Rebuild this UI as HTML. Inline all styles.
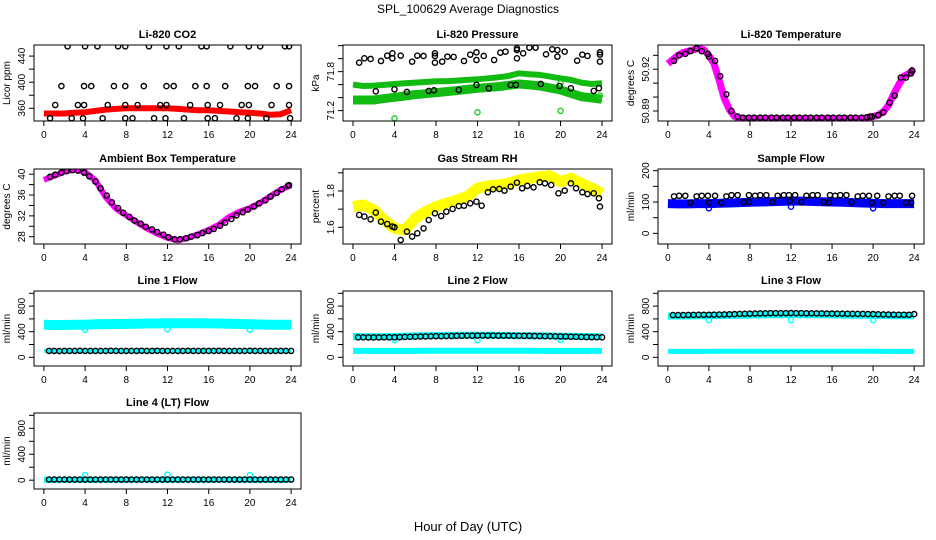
<!DOCTYPE html>
<html><head><meta charset="utf-8">
<style>
html,body{margin:0;padding:0;background:#fff;}
svg{display:block;font-family:"Liberation Sans",Arial,sans-serif;}
</style></head>
<body>
<svg id="fig" width="936" height="540" viewBox="0 0 936 540" xmlns="http://www.w3.org/2000/svg">
<text x="468" y="13" text-anchor="middle" font-size="12">SPL_100629  Average Diagnostics</text>
<text x="468" y="531" text-anchor="middle" font-size="13">Hour of Day (UTC)</text>
</svg>
<script>
// ---------- data ----------
const hourly = [0,1,2,3,4,5,6,7,8,9,10,11,12,13,14,15,16,17,18,19,20,21,22,23,24];

const co2Band = [352,352,352,353,354,356,358,359,360,360,360,360,360,359,358,357,357,356,355,354,353,352,350,351,357];
const co2H455 = [2.3,4.0,5.2,7.2,7.9,10.2,11.9,13.1,15.3,15.8,18.1,19.9,21.0,23.4,23.8];
const co2H395 = [1.7,3.9,4.6,6.8,7.9,9.7,11.9,12.6,14.7,15.8,17.6,19.8,20.5,22.6,23.8];
const co2H365 = [1.1,3.3,3.9,6.2,7.9,9.1,11.3,11.9,14.2,15.9,17.1,19.2,19.9,22.1,23.8];
const co2H345 = [0.6,2.7,3.8,5.7,7.9,8.6,10.7,11.8,13.6,15.9,16.6,18.7,19.8,21.6,23.9];

const presUpper = [71.600,71.579,71.585,71.595,71.610,71.621,71.631,71.641,71.651,71.651,71.662,71.672,71.682,71.697,71.713,71.733,71.774,71.759,71.749,71.723,71.697,71.672,71.631,71.610,71.620];
const presLower = [71.364,71.364,71.364,71.385,71.405,71.425,71.446,71.461,71.477,71.492,71.508,71.526,71.544,71.556,71.569,71.590,71.610,71.595,71.579,71.548,71.518,71.467,71.415,71.395,71.374];
const presGreenH = [4.0,12.0,20.0,20.0,23.8];
const presGreenV = [71.08,71.174,71.195,71.62,71.43];
const presH = [0.6,1.1,1.7,2.2,2.7,3.3,3.8,3.8,4.0,4.6,5.2,5.7,6.2,6.8,7.3,7.8,7.9,7.9,7.9,8.6,9.1,9.7,10.2,10.7,11.3,11.9,11.9,11.9,12.6,13.1,13.6,14.2,14.7,15.2,15.7,15.8,15.8,15.8,16.4,17.0,17.6,18.1,18.6,19.2,19.7,19.7,19.9,20.4,21.0,21.6,22.1,22.6,23.2,23.7,23.8,23.8,23.8];
const presV = [71.938,72.005,71.995,71.497,71.964,72.046,72.082,72.005,71.528,72.046,71.487,71.954,72.046,72.041,71.503,71.513,72.082,72.041,71.938,71.954,72.031,72.026,71.518,71.964,72.062,72.097,71.979,71.595,72.041,71.544,71.979,72.092,72.108,71.595,71.595,72.133,72.159,72.005,72.082,72.169,72.169,71.610,72.067,72.144,72.133,72.031,71.579,72.108,71.544,71.969,72.062,72.041,71.503,71.544,72.097,72.062,71.954];

const tempBandH = [0,0.5,1,1.5,2,2.5,3,3.5,4,4.5,5,5.5,6,6.5,7,10,14,18,19,19.5,20,20.5,21,21.5,22,22.5,23,23.5,24];
const tempBandV = [50.924,50.927,50.930,50.932,50.933,50.934,50.935,50.934,50.930,50.924,50.912,50.899,50.891,50.886,50.8845,50.8845,50.8845,50.8845,50.8845,50.885,50.886,50.887,50.8895,50.894,50.902,50.909,50.915,50.917,50.920];
const tempH = [0.6,1.1,1.7,2.2,2.8,3.3,3.9,4.0,4.6,5.1,5.7,6.2,6.8,7.3,7.9,8.4,9.0,9.5,10.1,10.6,11.2,11.7,12.3,12.8,13.4,13.9,14.5,15.0,15.6,16.1,16.7,17.2,17.8,18.3,18.9,19.4,19.7,19.9,20.5,21.0,21.6,22.1,22.7,23.2,23.7,23.8];
const tempV = [50.926,50.930,50.931,50.933,50.935,50.933,50.931,50.929,50.926,50.915,50.902,50.890,50.886,50.8852,50.8852,50.8852,50.8852,50.8852,50.8852,50.8852,50.8852,50.8852,50.8852,50.8852,50.8852,50.8852,50.8852,50.8852,50.8852,50.8852,50.8852,50.8852,50.8852,50.8852,50.8852,50.8855,50.886,50.886,50.887,50.889,50.896,50.901,50.914,50.914,50.917,50.919];

const ambBand = [38.9,39.7,40.5,40.9,40.4,38.8,35.6,33.4,32.1,30.8,29.6,28.6,27.8,27.3,27.8,28.5,29.3,30.3,31.8,32.8,33.5,34.5,35.8,37.0,37.9];
const circH = [0.6,1.1,1.7,2.2,2.8,3.3,3.9,4.4,5.0,5.5,6.1,6.6,7.2,7.7,8.3,8.8,9.4,9.9,10.5,11.0,11.6,12.1,12.7,13.2,13.8,14.3,14.9,15.4,16.0,16.5,17.1,17.6,18.2,18.7,19.3,19.8,20.4,20.9,21.5,22.0,22.6,23.1,23.7,23.8];
const ambV = [39.5,39.9,40.3,40.6,40.8,40.7,40.3,39.6,38.6,37.3,35.9,34.6,33.5,32.6,31.8,31.1,30.5,29.9,29.4,28.9,28.4,27.9,27.5,27.5,27.7,28.0,28.3,28.7,29.1,29.5,30.1,30.7,31.4,32.1,32.7,33.2,33.8,34.4,35.0,35.7,36.4,37.1,37.8,37.9];

const rhBand = [1.714,1.723,1.695,1.640,1.594,1.585,1.650,1.686,1.714,1.732,1.750,1.769,1.815,1.828,1.833,1.842,1.861,1.870,1.879,1.883,1.851,1.870,1.842,1.815,1.787];
const rhH = [0.6,1.1,1.7,2.2,2.7,3.3,3.8,4.0,4.6,5.2,5.7,6.2,6.8,7.3,7.9,8.5,9.0,9.6,10.2,10.7,11.3,11.9,12.4,13.0,13.5,14.1,14.6,15.2,15.8,16.3,16.8,17.4,18.0,18.5,19.1,19.8,20.4,21.0,21.5,22.1,22.6,23.2,23.7,23.8];
const rhV = [1.668,1.659,1.644,1.681,1.631,1.618,1.604,1.600,1.530,1.576,1.549,1.567,1.594,1.640,1.677,1.662,1.686,1.701,1.717,1.719,1.732,1.741,1.719,1.793,1.809,1.811,1.802,1.824,1.846,1.815,1.828,1.820,1.848,1.842,1.833,1.787,1.802,1.842,1.815,1.793,1.783,1.787,1.760,1.714];

const sfBand = [95,94,94,95,95,96,97,98,99,100,101,102,103,103,102,101,100,99,98,97,96,95,95,95,95];
const sfBlueH = [4,12,20];
const sfBlueV = [80,85,80];
const sfH = [0.6,1.1,1.7,2.2,2.8,3.3,3.9,4.0,4.6,5.2,5.7,6.2,6.8,7.4,7.9,7.9,8.5,9.0,9.6,10.2,10.7,11.3,11.8,11.9,12.4,13.0,13.5,14.1,14.6,15.2,15.7,15.8,16.3,16.8,17.4,17.9,18.5,19.0,19.6,19.9,20.4,21.0,21.5,22.1,22.6,23.2,23.7,23.8];
const sfV = [118,120,120,98,118,120,120,98,120,98,118,122,122,100,122,100,120,122,122,100,120,122,122,103,122,100,120,122,122,100,98,122,120,122,122,100,118,120,120,98,120,98,118,120,120,98,98,120];

const flowH = [0.5,1,1.5,2,2.5,3,3.5,4,4.5,5,5.5,6,6.5,7,7.5,8,8.5,9,9.5,10,10.5,11,11.5,12,12.5,13,13.5,14,14.5,15,15.5,16,16.5,17,17.5,18,18.5,19,19.5,20,20.5,21,21.5,22,22.5,23,23.5,24];
const l1Cyan = [510,505,505,508,510,515,518,520,522,525,528,530,532,533,533,532,530,528,525,520,515,512,510,508,508];
const l1Black = [100,100,98,100,100,100,102,100,100,100,100,100,102,100,100,100,100,100,102,100,100,102,100,100,100,100,100,102,100,100,100,100,100,102,100,100,100,100,100,102,100,100,100,100,100,100,100,100];
const l1CyanH = [4,12,20];
const l1CyanV = [430,440,430];
const l2CyanHi = [325,322,320,322,325,330,335,338,340,342,345,345,345,343,342,340,338,336,335,333,330,328,325,323,322];
const l2CyanLo = [100,100,100,100,100,100,100,102,102,102,102,102,102,102,102,102,102,102,100,100,100,100,100,100,100];
const l2Black = [312,312,310,310,310,312,312,312,315,318,320,322,325,326,328,330,330,332,333,335,337,338,338,340,340,340,340,338,338,338,336,336,335,335,333,332,330,330,328,326,325,322,320,318,316,315,314,312];
const l3CyanHi = [645,645,645,648,650,652,655,658,660,662,664,666,668,666,665,664,662,660,658,656,655,653,650,648,648];
const l3CyanLo = [92,92,92,92,92,93,93,94,95,95,96,96,96,96,96,95,95,94,94,93,93,92,92,92,92];
const l3Black = [660,660,660,662,663,664,665,665,666,668,670,672,675,678,680,682,684,686,688,690,690,690,690,692,690,690,688,688,686,685,684,683,682,682,680,680,678,678,676,675,672,670,668,666,665,665,664,675];
const l4Cyan = [5,5,5,5,5,5,5,6,6,6,6,6,6,6,6,6,6,6,6,6,6,5,5,5,5];
const l4Black = [10,10,10,10,10,10,10,10,10,10,10,10,10,10,10,10,10,10,10,10,10,10,10,10,10,10,10,10,10,10,10,10,10,10,10,10,10,10,10,10,10,10,10,10,10,10,10,10];
const l4CyanH = [4,12,20];
const l4CyanV = [80,85,80];

// ---------- layout ----------
const NS = "http://www.w3.org/2000/svg";
const svg = document.getElementById('fig');
const colBox = [[34,301],[343,612],[658,924]];
const rowBox = [[45,121],[169,244],[291,366],[413,489]];

function el(tag, attrs, parent){
  const e = document.createElementNS(NS, tag);
  for (const k in attrs) e.setAttribute(k, attrs[k]);
  (parent||svg).appendChild(e);
  return e;
}

function makePanel(col,row,title,ylab,ymin,ymax,ticks,labels,key){
  const [x0,x1] = colBox[col], [y0,y1] = rowBox[row];
  const g = el('g',{});
  
  
  const w = x1-x0;
  const sx = h => x0 + (w*0.04/1.08) + (h/24)*(w/1.08);
  const sy = v => y1 - (v-ymin)/(ymax-ymin)*(y1-y0);
  const plot = el('g',{'clip-path':'url(#clip-'+key+')'},g);
  const cp = el('clipPath',{id:'clip-'+key},g);
  el('rect',{x:x0,y:y0,width:w,height:y1-y0},cp);
  const box = el('rect',{x:x0,y:y0,width:w,height:y1-y0,fill:'none',stroke:'#000','stroke-width':1},g);
  
  
  const t = el('text',{x:(x0+x1)/2,y:y0-7,'text-anchor':'middle','font-size':11,'font-weight':'bold'},g);
  t.textContent = title;
  
  
  [0,4,8,12,16,20,24].forEach(h=>{
    el('line',{x1:sx(h),x2:sx(h),y1:y1,y2:y1+5,stroke:'#000'},g);
    const tl = el('text',{x:sx(h),y:y1+17,'text-anchor':'middle','font-size':10},g);
    tl.textContent = h;
    
    
  });
  ticks.forEach(v=>{
    el('line',{x1:x0-5,x2:x0,y1:sy(v),y2:sy(v),stroke:'#000'},g);
  });
  labels.forEach(v=>{
    const yl = el('text',{x:0,y:0,'text-anchor':'middle','font-size':10,transform:'translate('+(x0-9)+','+sy(v)+') rotate(-90)'},g);
    yl.textContent = v;
    
    
  });
  const yt = el('text',{x:0,y:0,'text-anchor':'middle','font-size':10,transform:'translate('+(x0-24)+','+((y0+y1)/2)+') rotate(-90)'},g);
  yt.textContent = ylab;
  
  
  return {plot, sx, sy};
}

function band(p,hs,vs,color,width,name){
  const pts = hs.map((h,i)=>p.sx(h).toFixed(1)+','+p.sy(vs[i]).toFixed(1)).join(' ');
  const b = el('polyline',{points:pts,fill:'none',stroke:color,'stroke-width':width,'stroke-linejoin':'round','stroke-linecap':'butt'},p.plot);
  
  
}
function circles(p,hs,vs,color,name){
  hs.forEach((h,i)=>{
    const c = el('circle',{cx:p.sx(h),cy:p.sy(vs[i]),r:2.6,fill:'none',stroke:color,'stroke-width':1.4},p.plot);
    
    
  });
}
const rng = (a,b,s)=>{const r=[];for(let v=a;v<=b+1e-9;v+=s)r.push(+v.toFixed(4));return r;};

let p = makePanel(0,0,'Li-820 CO2','Licor ppm',340.5,457,rng(360,440,20),[360,400,440],'co2');
band(p,hourly,co2Band,'#ff0000',6,'co2-band');
circles(p,co2H455,co2H455.map(()=>455),'#000','co2-point');
circles(p,co2H395,co2H395.map(()=>394),'#000','co2-point');
circles(p,co2H365,co2H365.map(()=>365),'#000','co2-point');
circles(p,co2H345,co2H345.map(()=>344.7),'#000','co2-point');

p = makePanel(1,0,'Li-820 Pressure','kPa',71.04,72.21,rng(71.2,72.2,0.2),['71.2','71.8'],'pressure');
band(p,hourly,presUpper,'#11bb11',6,'pressure-upper-band');
band(p,hourly,presLower,'#11bb11',9,'pressure-lower-band');
circles(p,presGreenH,presGreenV,'#22cc22','pressure-green-point');
circles(p,presH,presV,'#000','pressure-point');

p = makePanel(2,0,'Li-820 Temperature','degrees C',50.8828,50.9374,rng(50.89,50.93,0.01),['50.89','50.92'],'li820-temp');
band(p,tempBandH,tempBandV,'#ff00ff',7,'li820-temp-band');
circles(p,tempH,tempV,'#000','li820-temp-point');

p = makePanel(0,1,'Ambient Box Temperature','degrees C',26.6,41.0,rng(28,40,2),[28,32,36,40],'ambient');
band(p,hourly,ambBand,'#ff00ff',6,'ambient-band');
circles(p,circH,ambV,'#000','ambient-point');

p = makePanel(1,1,'Gas Stream RH','percent',1.508,1.921,rng(1.6,1.9,0.1),['1.6','1.8'],'rh');
band(p,hourly,rhBand,'#ffff00',11,'rh-band');
circles(p,rhH,rhV,'#000','rh-point');

p = makePanel(2,1,'Sample Flow','ml/min',-34,205.4,rng(0,200,50),[0,100,200],'sample-flow');
band(p,hourly,sfBand,'#0000ff',9,'sample-flow-band');
circles(p,sfBlueH,sfBlueV,'#0000ff','sample-flow-blue-point');
circles(p,sfH,sfV,'#000','sample-flow-point');

p = makePanel(0,2,'Line 1 Flow','ml/min',-136,1036,rng(0,1000,200),[0,400,800],'line1');
band(p,hourly,l1Cyan,'#00ffff',10,'line1-band');
band(p,hourly,l1Cyan.map(()=>100),'#00ffff',4,'line1-low-band');
circles(p,l1CyanH,l1CyanV,'#00ffff','line1-cyan-point');
circles(p,flowH,l1Black,'#000','line1-point');

p = makePanel(1,2,'Line 2 Flow','ml/min',-136,1036,rng(0,1000,200),[0,400,800],'line2');
band(p,hourly,l2CyanHi,'#00ffff',7,'line2-upper-band');
band(p,hourly,l2CyanLo,'#00ffff',6,'line2-lower-band');
circles(p,[4,12,20],[270,270,270],'#00ffff','line2-cyan-point');
circles(p,flowH,l2Black,'#000','line2-point');

p = makePanel(2,2,'Line 3 Flow','ml/min',-136,1036,rng(0,1000,200),[0,400,800],'line3');
band(p,hourly,l3CyanHi,'#00ffff',7,'line3-upper-band');
band(p,hourly,l3CyanLo,'#00ffff',5,'line3-lower-band');
circles(p,[4,12,20],[580,580,580],'#00ffff','line3-cyan-point');
circles(p,flowH,l3Black,'#000','line3-point');

p = makePanel(0,3,'Line 4 (LT) Flow','ml/min',-136,1036,rng(0,1000,200),[0,400,800],'line4');
band(p,hourly,l4Cyan,'#00ffff',6,'line4-band');
circles(p,l4CyanH,l4CyanV,'#00ffff','line4-cyan-point');
circles(p,flowH,l4Black,'#000','line4-point');
</script>
</body></html>
